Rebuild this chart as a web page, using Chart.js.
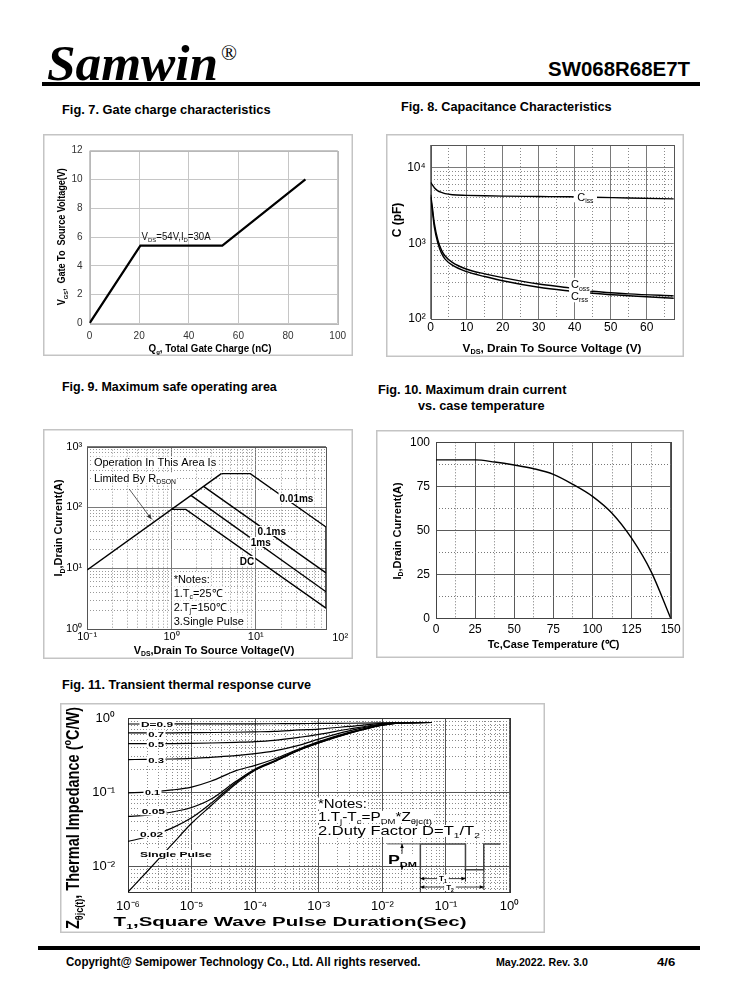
<!DOCTYPE html>
<html>
<head>
<meta charset="utf-8">
<title>SW068R68E7T</title>
<script src="https://cdn.jsdelivr.net/npm/chart.js@4.4.1/dist/chart.umd.min.js"></script>
<style>
  html, body { margin: 0; padding: 0; background: #fff; }
  #page { position: relative; width: 738px; height: 1000px; overflow: hidden; font-family: 'Liberation Sans', Arial, sans-serif; color: #000; }
  .txt { position: absolute; white-space: nowrap; line-height: 1; transform-origin: 0 0; }
  .rule { position: absolute; background: #000; }
  canvas { position: absolute; }
</style>
</head>
<body>
<div id="page">
  <div class="txt" data-w="171" style="left:47px;top:34px;font:bold italic 51px 'Liberation Serif', serif;">Samwin</div>
  <div class="txt" style="left:221px;top:41px;font:21px 'Liberation Serif', serif;">®</div>
  <div class="txt" data-w="142" style="left:548px;top:58px;font:bold 20px 'Liberation Sans', Arial;">SW068R68E7T</div>
  <div class="rule" style="left:42px;top:82px;width:658px;height:4px;"></div>

  <div class="txt" data-w="208" style="left:62px;top:103px;font:bold 12px 'Liberation Sans', Arial;">Fig. 7. Gate charge characteristics</div>
  <div class="txt" data-w="211" style="left:401px;top:100px;font:bold 12px 'Liberation Sans', Arial;">Fig. 8. Capacitance Characteristics</div>
  <div class="txt" data-w="215" style="left:62px;top:380px;font:bold 12px 'Liberation Sans', Arial;">Fig. 9. Maximum safe operating area</div>
  <div class="txt" data-w="188" style="left:378px;top:383px;font:bold 12px 'Liberation Sans', Arial;">Fig. 10. Maximum drain current</div>
  <div class="txt" data-w="126" style="left:418px;top:399px;font:bold 12px 'Liberation Sans', Arial;">vs. case temperature</div>
  <div class="txt" data-w="249" style="left:62px;top:678px;font:bold 12px 'Liberation Sans', Arial;">Fig. 11. Transient thermal response curve</div>

  <canvas id="gateChart"></canvas>
  <canvas id="capChart"></canvas>
  <canvas id="soaChart"></canvas>
  <canvas id="derateChart"></canvas>
  <canvas id="zthChart"></canvas>

  <div class="rule" style="left:38px;top:946px;width:662px;height:4px;"></div>
  <div class="txt" data-w="354" style="left:66px;top:955px;font:bold 12px 'Liberation Sans', Arial;">Copyright@ Semipower Technology Co., Ltd. All rights reserved.</div>
  <div class="txt" data-w="92" style="left:496px;top:956px;font:bold 11px 'Liberation Sans', Arial;">May.2022. Rev. 3.0</div>
  <div class="txt" data-w="18" style="left:657px;top:956px;font:bold 11px 'Liberation Sans', Arial;">4/6</div>
</div>

<script>
const FONT = "'Liberation Sans', Arial, sans-serif";
const NARROW = "'Liberation Sans Narrow', 'Liberation Sans', Arial, sans-serif";

// Fig. 7 gate charge
const gateQg = [0, 20.5, 53.5, 87];
const gateVgs = [0, 5.4, 5.4, 10];
const gateQTicks = [0, 20, 40, 60, 80, 100];
const gateVTicks = [0, 2, 4, 6, 8, 10, 12];

// Fig. 8 capacitance
const capVds  = [0, 0.5, 1, 2, 3, 4, 6, 10, 15, 20, 30, 38.5, 45, 55, 68];
const capCiss = [6400, 5900, 5450, 4960, 4720, 4550, 4400, 4320, 4260, 4220, 4170, 4130, 4080, 3980, 3870];
const capCoss = [4400, 2900, 1850, 1100, 815, 680, 560, 455, 395, 352, 290, 258, 233, 215, 202];
const capCrss = [4100, 2600, 1650, 1000, 740, 620, 515, 422, 365, 321, 263, 235, 219, 203, 188];
const capVTicks = [0, 10, 20, 30, 40, 50, 60];
const capVMinor = [5, 15, 25, 35, 45, 55, 65];
const capCTicks = [100, 1000, 10000];

// Fig. 9 safe operating area
const soaRdsV = [0.1, 3.9];
const soaRdsI = [9.4, 360];
const soa10usV = [3.9, 8.6, 68];
const soa10usI = [360, 360, 47.7];
const soa100usV = [2.4, 68];
const soa100usI = [222, 8.4];
const soa1msV = [1.7, 68];
const soa1msI = [158, 4.1];
const soaDcV = [1.0, 1.48, 68];
const soaDcI = [93, 93, 2.2];
const soaEdgeV = [68, 68];
const soaEdgeI = [47.7, 2.2];
const soaVTicks = [0.1, 1, 10];
const soaITicks = [1, 10, 100, 1000];

// Fig. 10 drain current derating
const derTc = [0, 25, 37.5, 50, 62.5, 75, 87.5, 100, 112.5, 125, 137.5, 150];
const derId = [90, 90, 88.8, 87.1, 85, 81.8, 76.1, 69.3, 59.7, 45.5, 26.5, 0];
const derTTicks = [0, 25, 50, 75, 100, 125, 150];
const derTMinor = [12.5, 37.5, 62.5, 87.5, 112.5, 137.5];
const derITicks = [0, 25, 50, 75, 100];
const derIMinor = [12.5, 37.5, 62.5, 87.5];

// Fig. 11 transient thermal impedance
const zthT      = [1e-6, 2e-6, 5e-6, 1e-5, 2e-5, 5e-5, 1e-4, 2e-4, 5e-4, 1e-3, 3e-3, 1e-2, 2e-2, 6e-2];
const zthD09    = [0.83, 0.83, 0.831, 0.832, 0.833, 0.834, 0.835, 0.837, 0.84, 0.845, 0.85, 0.86, 0.868, 0.87];
const zthD07    = [0.63, 0.631, 0.632, 0.635, 0.637, 0.642, 0.65, 0.66, 0.69, 0.71, 0.77, 0.845, 0.865, 0.87];
const zthD05    = [0.45, 0.451, 0.452, 0.455, 0.46, 0.47, 0.48, 0.5, 0.55, 0.6, 0.71, 0.83, 0.865, 0.87];
const zthD03    = [0.275, 0.277, 0.28, 0.285, 0.295, 0.31, 0.33, 0.36, 0.43, 0.52, 0.67, 0.82, 0.86, 0.87];
const zthD01    = [0.098, 0.1, 0.107, 0.117, 0.14, 0.195, 0.23, 0.28, 0.385, 0.48, 0.64, 0.81, 0.86, 0.87];
const zthD005   = [0.047, 0.049, 0.054, 0.062, 0.08, 0.14, 0.205, 0.265, 0.378, 0.47, 0.63, 0.805, 0.86, 0.87];
const zthD002   = [0.0216, 0.025, 0.033, 0.045, 0.07, 0.135, 0.2, 0.26, 0.372, 0.462, 0.622, 0.8, 0.86, 0.87];
const zthSingle = [0.0045, 0.0085, 0.02, 0.038, 0.065, 0.13, 0.198, 0.257, 0.37, 0.46, 0.62, 0.8, 0.86, 0.87];
const zthTTicks = [1e-6, 1e-5, 1e-4, 1e-3, 1e-2, 1e-1, 1];
const zthZTicks = [0.01, 0.1, 1];
// P_DM pulse sketch in the notes
const pulseT = [0.0396, 0.0396, 0.203, 0.203, 0.394, 0.394, 0.72];
const pulseP = [0.009, 0.02, 0.02, 0.009, 0.009, 0.02, 0.02];

const SUP = { '-': '⁻', '0': '⁰', '1': '¹', '2': '²', '3': '³', '4': '⁴', '5': '⁵', '6': '⁶', '7': '⁷', '8': '⁸', '9': '⁹' };
function powLabel(v) {
  const e = Math.round(Math.log10(v));
  return '10' + String(e).split('').map(c => SUP[c]).join('');
}

function logMinors(lo, hi) {
  const out = [];
  for (let e = Math.floor(Math.log10(lo)); Math.pow(10, e) < hi; e++) {
    for (let m = 2; m <= 9; m++) {
      const v = +(m * Math.pow(10, e)).toPrecision(3);
      if (v > lo && v < hi) out.push(v);
    }
  }
  return out;
}

function series(xs, ys, extra) {
  return Object.assign({
    data: xs.map((x, i) => ({ x: x, y: ys[i] })),
    xAxisID: 'x', yAxisID: 'y',
    borderColor: '#000', borderWidth: 1.4,
    pointRadius: 0, fill: false, tension: 0
  }, extra || {});
}

function mainAxis(o) {
  const horiz = o.pos === 'bottom';
  return {
    type: o.type || 'linear', position: o.pos, min: o.min, max: o.max,
    afterBuildTicks: s => { s.ticks = o.ticks.map(v => ({ value: v })); },
    afterFit: s => {
      s.paddingTop = s.paddingBottom = s.paddingLeft = s.paddingRight = 0;
      if (horiz) s.height = o.size; else s.width = o.size;
    },
    grid: { color: o.grid, lineWidth: 1, drawTicks: false },
    border: { display: false },
    ticks: {
      autoSkip: false, maxRotation: 0, minRotation: 0, padding: o.pad,
      color: o.color || '#000',
      font: { family: FONT, size: o.font },
      callback: o.fmt || (v => String(v))
    }
  };
}

function minorAxis(o) {
  const horiz = o.pos === 'bottom';
  return {
    type: o.type || 'linear', position: o.pos, min: o.min, max: o.max,
    afterBuildTicks: s => { s.ticks = o.ticks.map(v => ({ value: v })); },
    afterFit: s => {
      s.paddingTop = s.paddingBottom = s.paddingLeft = s.paddingRight = 0;
      if (horiz) s.height = 0; else s.width = 0;
    },
    grid: { color: o.grid, lineWidth: 1, drawTicks: false, borderDash: [1, 2] },
    border: { display: false, dash: [1, 2] },
    ticks: { display: false }
  };
}

// rich text with sub/superscripts, anchored at the vertical middle
function drawText(ctx, it, x, y, phase) {
  const size = it.size || 11;
  const weight = it.bold ? 'bold ' : '';
  const family = it.family || FONT;
  const segs = it.parts.map(p => {
    const kind = p[1] || '';
    const s = kind ? size * 0.62 : size;
    const font = weight + s.toFixed(2) + 'px ' + family;
    ctx.font = font;
    return { t: p[0], kind: kind, font: font, w: ctx.measureText(p[0]).width };
  });
  const natural = segs.reduce((a, s) => a + s.w, 0);
  const sx = it.fit ? it.fit / natural : 1;
  const w = natural * sx;
  ctx.save();
  ctx.translate(x, y);
  if (it.rot) ctx.rotate(it.rot * Math.PI / 180);
  let x0 = it.align === 'center' ? -w / 2 : it.align === 'right' ? -w : 0;
  if (phase === 'bg') {
    if (it.bg) {
      const pad = it.pad || [1, 1];
      ctx.fillStyle = it.bg;
      ctx.fillRect(x0 - pad[0], -size * 0.5 - pad[1], w + 2 * pad[0], size + 2 * pad[1]);
    }
    ctx.restore();
    return;
  }
  ctx.scale(sx, 1);
  x0 /= sx;
  ctx.fillStyle = it.color || '#000';
  ctx.textBaseline = 'alphabetic';
  const base = size * 0.36;
  segs.forEach(s => {
    ctx.font = s.font;
    const dy = s.kind === 'sub' ? size * 0.22 : s.kind === 'sup' ? -size * 0.4 : 0;
    ctx.fillText(s.t, x0, base + dy);
    x0 += s.w;
  });
  ctx.restore();
}

function drawSeg(chart, it) {
  const ctx = chart.ctx;
  const p = it.pts.map(q => [chart.scales.x.getPixelForValue(q[0]), chart.scales.y.getPixelForValue(q[1])]);
  ctx.save();
  ctx.strokeStyle = ctx.fillStyle = it.color || '#000';
  ctx.lineWidth = it.width || 1;
  ctx.beginPath();
  p.forEach((q, i) => i ? ctx.lineTo(q[0], q[1]) : ctx.moveTo(q[0], q[1]));
  ctx.stroke();
  const head = (a, b) => {
    const ang = Math.atan2(b[1] - a[1], b[0] - a[0]);
    const L = it.head || 5, W = L * 0.45;
    const c = Math.cos(ang), s = Math.sin(ang);
    ctx.beginPath();
    ctx.moveTo(b[0], b[1]);
    ctx.lineTo(b[0] - L * c + W * s, b[1] - L * s - W * c);
    ctx.lineTo(b[0] - L * c - W * s, b[1] - L * s + W * c);
    ctx.closePath();
    ctx.fill();
  };
  if (it.end) head(p[p.length - 2], p[p.length - 1]);
  if (it.start) head(p[1], p[0]);
  ctx.restore();
}

function sheet(items, frame) {
  return {
    id: 'sheet',
    beforeDraw(chart) {
      const ctx = chart.ctx;
      ctx.save();
      ctx.fillStyle = '#fff';
      ctx.fillRect(0, 0, chart.width, chart.height);
      ctx.strokeStyle = '#c4c4c4';
      ctx.lineWidth = 1.5;
      ctx.strokeRect(0.75, 0.75, chart.width - 1.5, chart.height - 1.5);
      ctx.restore();
    },
    beforeDatasetsDraw(chart) {
      const a = chart.chartArea, ctx = chart.ctx;
      ctx.save();
      ctx.strokeStyle = frame;
      ctx.lineWidth = 1;
      ctx.strokeRect(Math.round(a.left) + 0.5, Math.round(a.top) + 0.5,
        Math.round(a.right - a.left), Math.round(a.bottom - a.top));
      ctx.restore();
    },
    afterDatasetsDraw(chart) {
      const ctx = chart.ctx;
      const where = it => [
        it.ax !== undefined ? it.ax : chart.scales.x.getPixelForValue(it.x),
        it.ay !== undefined ? it.ay : chart.scales.y.getPixelForValue(it.y)
      ];
      items.forEach(it => { if (it.pts) drawSeg(chart, it); });
      items.forEach(it => { if (it.parts) { const p = where(it); drawText(ctx, it, p[0], p[1], 'bg'); } });
      items.forEach(it => { if (it.parts) { const p = where(it); drawText(ctx, it, p[0], p[1], 'fg'); } });
    }
  };
}

function makeChart(id, box, area, scales, datasets, items, frame) {
  const cv = document.getElementById(id);
  cv.width = box.w;
  cv.height = box.h;
  cv.style.left = box.x + 'px';
  cv.style.top = box.y + 'px';
  return new Chart(cv, {
    type: 'line',
    data: { datasets: datasets },
    options: {
      responsive: false, animation: false, events: [],
      layout: { padding: { left: 0, bottom: 0, top: area.t, right: box.w - area.r } },
      plugins: { legend: { display: false }, tooltip: { enabled: false } },
      scales: scales
    },
    plugins: [sheet(items, frame)]
  });
}

// ---------- Fig. 7 ----------
(function () {
  const box = { x: 43, y: 134, w: 310, h: 222 };
  const area = { l: 46.5, t: 16.7, r: 294.7, b: 189.3 };
  makeChart('gateChart', box, area, {
    x: mainAxis({ pos: 'bottom', min: 0, max: 100, ticks: gateQTicks, size: box.h - area.b, pad: 7, font: 10, grid: '#c6c6c6', color: '#333' }),
    y: mainAxis({ pos: 'left', min: 0, max: 12, ticks: gateVTicks, size: area.l, pad: 7, font: 10, grid: '#c6c6c6', color: '#333' })
  }, [
    series(gateQg, gateVgs, { borderWidth: 2.2 })
  ], [
    { parts: [['V'], ['DS', 'sub'], ['=54V,I'], ['D', 'sub'], ['=30A']], x: 21, y: 6.07, size: 10, fit: 69, color: '#111' },
    { parts: [['V'], ['GS', 'sub'], [',  Gate To  Source Voltage(V)']], ax: 18.7, ay: 102.7, rot: -90, align: 'center', bold: true, size: 10, fit: 137 },
    { parts: [['Q'], ['g', 'sub'], [', Total Gate Charge (nC)']], ax: 167, ay: 214, align: 'center', bold: true, size: 10, fit: 123 }
  ], '#b8b8b8');
})();

// ---------- Fig. 8 ----------
(function () {
  const box = { x: 386, y: 134, w: 298, h: 223 };
  const area = { l: 44.7, t: 11, r: 287.7, b: 185 };
  makeChart('capChart', box, area, {
    x: mainAxis({ pos: 'bottom', min: 0, max: 67.5, ticks: capVTicks, size: box.h - area.b, pad: 1, font: 12, grid: '#7a7a7a' }),
    xm: minorAxis({ pos: 'bottom', min: 0, max: 67.5, ticks: capVMinor, grid: '#8a8a8a' }),
    y: mainAxis({ pos: 'left', type: 'logarithmic', min: 100, max: 20000, ticks: capCTicks, size: area.l, pad: 5, font: 12, grid: '#7a7a7a', fmt: powLabel }),
    ym: minorAxis({ pos: 'left', type: 'logarithmic', min: 100, max: 20000, ticks: logMinors(100, 20000), grid: '#8a8a8a' })
  }, [
    series(capVds, capCiss, { cubicInterpolationMode: 'monotone' }),
    series(capVds, capCoss, { cubicInterpolationMode: 'monotone' }),
    series(capVds, capCrss, { cubicInterpolationMode: 'monotone' })
  ], [
    { parts: [['C'], ['iss', 'sub']], x: 40.7, y: 4130, size: 11, bg: '#fff', pad: [3.5, 0] },
    { parts: [['C'], ['oss', 'sub']], x: 39, y: 287, size: 11, bg: '#fff', pad: [2, 1] },
    { parts: [['C'], ['rss', 'sub']], x: 39, y: 203, size: 11, bg: '#fff', pad: [2, 1] },
    { parts: [['C (pF)']], ax: 11, ay: 86, rot: -90, align: 'center', bold: true, size: 12 },
    { parts: [['V'], ['DS', 'sub'], [', Drain To Source Voltage (V)']], ax: 166, ay: 214, align: 'center', bold: true, size: 11, fit: 179 }
  ], '#555');
})();

// ---------- Fig. 9 ----------
(function () {
  const box = { x: 43, y: 429, w: 310, h: 230 };
  const area = { l: 44.2, t: 17.7, r: 283, b: 200 };
  makeChart('soaChart', box, area, {
    x: mainAxis({ pos: 'bottom', type: 'logarithmic', min: 0.1, max: 68, ticks: soaVTicks, size: box.h - area.b, pad: 1, font: 11, grid: '#7a7a7a', fmt: powLabel }),
    xm: minorAxis({ pos: 'bottom', type: 'logarithmic', min: 0.1, max: 68, ticks: logMinors(0.1, 68), grid: '#999' }),
    y: mainAxis({ pos: 'left', type: 'logarithmic', min: 1, max: 1000, ticks: soaITicks, size: area.l, pad: 5, font: 11, grid: '#7a7a7a', fmt: powLabel }),
    ym: minorAxis({ pos: 'left', type: 'logarithmic', min: 1, max: 1000, ticks: logMinors(1, 1000), grid: '#999' })
  }, [
    series(soaRdsV, soaRdsI),
    series(soa10usV, soa10usI),
    series(soa100usV, soa100usI),
    series(soa1msV, soa1msI),
    series(soaDcV, soaDcI),
    series(soaEdgeV, soaEdgeI)
  ], [
    { pts: [[0.315, 201], [0.58, 64]], width: 0.8, end: true, head: 5, color: '#333' },
    { parts: [['Operation In This Area Is']], x: 0.12, y: 560, size: 11, bg: '#fff', pad: [1, 0] },
    { parts: [['Limited By R'], ['DSON', 'sub']], x: 0.12, y: 309, size: 11, bg: '#fff', pad: [1, 0] },
    { parts: [['0.01ms']], x: 19.1, y: 143, bold: true, size: 10, bg: '#fff', pad: [1, 0] },
    { parts: [['0.1ms']], x: 10.5, y: 41, bold: true, size: 10, bg: '#fff', pad: [1, 0] },
    { parts: [['1ms']], x: 8.7, y: 27.1, bold: true, size: 10, bg: '#fff', pad: [1, 0] },
    { parts: [['DC']], x: 6.44, y: 13.2, bold: true, size: 10, bg: '#fff', pad: [1, 0] },
    { parts: [['*Notes:']], x: 1.06, y: 6.67, size: 11, bg: '#fff', pad: [1, 1] },
    { parts: [['1.T'], ['c', 'sub'], ['=25℃']], x: 1.06, y: 3.93, size: 11, bg: '#fff', pad: [1, 1] },
    { parts: [['2.T'], ['j', 'sub'], ['=150℃']], x: 1.06, y: 2.31, size: 11, bg: '#fff', pad: [1, 1] },
    { parts: [['3.Single Pulse']], x: 1.06, y: 1.36, size: 11, bg: '#fff', pad: [1, 1] },
    { parts: [[powLabel(100)]], x: 100, ay: area.b + 7.6, align: 'center', size: 11 },
    { parts: [['I'], ['D', 'sub'], [',Drain Current(A)']], ax: 15.5, ay: 99, rot: -90, align: 'center', bold: true, size: 11 },
    { parts: [['V'], ['DS', 'sub'], [',Drain To Source Voltage(V)']], ax: 171, ay: 221, align: 'center', bold: true, size: 11 }
  ], '#555');
})();

// ---------- Fig. 10 ----------
(function () {
  const box = { x: 376, y: 430, w: 308, h: 228 };
  const area = { l: 60, t: 12.3, r: 294.7, b: 188.3 };
  makeChart('derateChart', box, area, {
    x: mainAxis({ pos: 'bottom', min: 0, max: 150, ticks: derTTicks, size: box.h - area.b, pad: 4, font: 12, grid: '#5a5a5a' }),
    xm: minorAxis({ pos: 'bottom', min: 0, max: 150, ticks: derTMinor, grid: '#777' }),
    y: mainAxis({ pos: 'left', min: 0, max: 100, ticks: derITicks, size: area.l, pad: 6, font: 12, grid: '#5a5a5a' }),
    ym: minorAxis({ pos: 'left', min: 0, max: 100, ticks: derIMinor, grid: '#777' })
  }, [
    series(derTc, derId, { cubicInterpolationMode: 'monotone' })
  ], [
    { parts: [['I'], ['D', 'sub'], [',Drain Current(A)']], ax: 21, ay: 101, rot: -90, align: 'center', bold: true, size: 11 },
    { parts: [['Tc,Case Temperature (℃)']], ax: 177.5, ay: 214, align: 'center', bold: true, size: 11 }
  ], '#444');
})();

// ---------- Fig. 11 ----------
(function () {
  const box = { x: 60, y: 703, w: 485, h: 230 };
  const area = { l: 68, t: 15, r: 449.5, b: 189 };
  const curve = ys => series(zthT, ys, { cubicInterpolationMode: 'monotone', borderWidth: 1.2 });
  const lbl = (txt, x, y, fit) => ({ parts: [[txt]], x: x, y: y, bold: true, size: 8, fit: fit, bg: '#fff', pad: [1.5, 0] });
  makeChart('zthChart', box, area, {
    x: mainAxis({ pos: 'bottom', type: 'logarithmic', min: 1e-6, max: 1, ticks: zthTTicks, size: box.h - area.b, pad: 7, font: 13, grid: '#555', fmt: powLabel }),
    xm: minorAxis({ pos: 'bottom', type: 'logarithmic', min: 1e-6, max: 1, ticks: logMinors(1e-6, 1), grid: '#8a8a8a' }),
    y: mainAxis({ pos: 'left', type: 'logarithmic', min: 0.0045, max: 1, ticks: zthZTicks, size: area.l, pad: 13, font: 13, grid: '#555', fmt: powLabel }),
    ym: minorAxis({ pos: 'left', type: 'logarithmic', min: 0.0045, max: 1, ticks: logMinors(0.0045, 1), grid: '#8a8a8a' })
  }, [
    curve(zthD09), curve(zthD07), curve(zthD05), curve(zthD03),
    curve(zthD01), curve(zthD005), curve(zthD002), curve(zthSingle),
    series(pulseT, pulseP, { borderColor: '#444', borderWidth: 1.5 })
  ], [
    lbl('D=0.9', 1.6e-6, 0.83, 32),
    lbl('0.7', 2.08e-6, 0.614, 15.7),
    lbl('0.5', 2.08e-6, 0.445, 15.7),
    lbl('0.3', 2.08e-6, 0.273, 15.7),
    lbl('0.1', 1.85e-6, 0.099, 15),
    lbl('0.05', 1.64e-6, 0.055, 23.3),
    lbl('0.02', 1.54e-6, 0.0273, 23.3),
    lbl('Single Pulse', 1.54e-6, 0.01466, 71.7),
    { parts: [['*Notes:']], x: 9.7e-4, y: 0.0703, size: 12, fit: 49, bg: '#fff', pad: [1, 0] },
    { parts: [['1.T'], ['j', 'sub'], ['-T'], ['c', 'sub'], ['=P'], ['DM', 'sub'], ['*Z'], ['θjc(t)', 'sub']], x: 9.7e-4, y: 0.0464, size: 12, fit: 114, bg: '#fff', pad: [1, 0] },
    { parts: [['2.Duty Factor D=T'], ['1', 'sub'], ['/T'], ['2', 'sub']], x: 9.7e-4, y: 0.030, size: 12, fit: 162, bg: '#fff', pad: [1, 0] },
    { pts: [[0.0119, 0.02], [0.0396, 0.02]], color: '#777', width: 1.2 },
    { pts: [[0.0204, 0.02], [0.0204, 0.009]], start: true, end: true, width: 0.8, head: 4 },
    { parts: [['P'], ['DM', 'sub']], x: 0.0207, y: 0.01244, bold: true, size: 13, align: 'center', fit: 29, bg: '#fff', pad: [1, -1] },
    { pts: [[0.0396, 0.009], [0.0396, 0.0045]], width: 0.8 },
    { pts: [[0.203, 0.009], [0.203, 0.0062]], width: 0.8 },
    { pts: [[0.394, 0.009], [0.394, 0.0048]], width: 0.8 },
    { pts: [[0.0396, 0.00682], [0.203, 0.00682]], start: true, end: true, width: 0.8, head: 4 },
    { pts: [[0.0396, 0.00525], [0.394, 0.00525]], start: true, end: true, width: 0.8, head: 4 },
    { parts: [['T'], ['1', 'sub']], x: 0.0897, y: 0.00682, bold: true, size: 8, align: 'center', bg: '#fff', pad: [2, 0] },
    { parts: [['T'], ['2', 'sub']], x: 0.116, y: 0.00525, bold: true, size: 8, align: 'center', bg: '#fff', pad: [2, 0] },
    { parts: [['Z'], ['θjc(t)', 'sub'], [', Thermal Impedance ('], ['o', 'sup'], ['C/W)']], ax: 12, ay: 115, rot: -90, align: 'center', bold: true, size: 19, family: NARROW, fit: 222 },
    { parts: [['T'], ['1', 'sub'], [',Square Wave Pulse Duration(Sec)']], ax: 230, ay: 218, align: 'center', bold: true, size: 13, fit: 353 }
  ], '#333');
})();

// stretch header/footer texts to their widths on the sheet
function fitTexts() {
  document.querySelectorAll('[data-w]').forEach(el => {
    const w = el.offsetWidth;
    if (w > 0) el.style.transform = 'scaleX(' + (+el.dataset.w / w).toFixed(3) + ')';
  });
}
fitTexts();
if (document.fonts) document.fonts.ready.then(fitTexts);
</script>
</body>
</html>
